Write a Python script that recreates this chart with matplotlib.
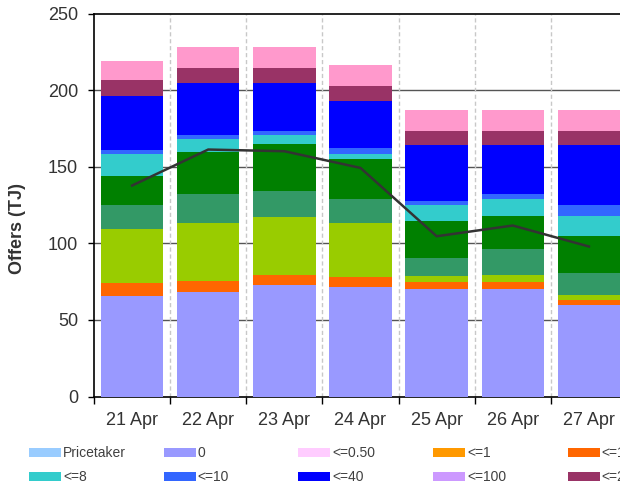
import numpy as np
import matplotlib
matplotlib.use("Agg")
from matplotlib import pyplot as plt
from matplotlib.patches import Patch

plt.rcParams['font.family'] = ['Liberation Sans', 'DejaVu Sans']

# days on the x axis
days = ['21 Apr', '22 Apr', '23 Apr', '24 Apr', '25 Apr', '26 Apr', '27 Apr']

# price bands, bottom of the stack first
bands = ['Pricetaker', '0', '<=0.50', '<=1', '<=1.5', '<=2', '<=4', '<=6',
         '<=8', '<=10', '<=40', '<=100', '<=250', '<=400']
band_colors = ['#99CCFF', '#9999FF', '#FFCCFF', '#FF9900', '#FF6600', '#99CC00',
               '#339966', '#008000', '#33CCCC', '#3366FF', '#0000FF', '#CC99FF',
               '#993366', '#FF99CC']

# offered quantity in each band (TJ)
pricetaker = [0, 0, 0, 0, 0, 0, 0]
band_0 = [65.3, 67.9, 73.1, 71.6, 70.3, 70.3, 60.0]
band_050 = [0, 0, 0, 0, 0, 0, 0]
band_1 = [0, 0, 0, 0, 0, 0, 0]
band_15 = [8.5, 7.6, 6.3, 6.3, 4.3, 4.3, 2.7]
band_2 = [35.6, 37.9, 37.8, 35.5, 3.9, 5.0, 3.6]
band_4 = [15.9, 18.5, 16.8, 15.8, 11.6, 17.0, 14.6]
band_6 = [18.5, 28.0, 31.1, 25.5, 24.3, 21.1, 23.7]
band_8 = [14.8, 7.9, 5.9, 3.9, 10.3, 11.5, 13.1]
band_10 = [2.6, 3.2, 2.6, 3.3, 2.6, 2.7, 7.0]
band_40 = [34.8, 33.5, 30.9, 31.3, 36.7, 32.1, 39.3]
band_100 = [0, 0, 0, 0, 0, 0, 0]
band_250 = [10.3, 10.0, 10.0, 9.4, 9.0, 9.0, 9.0]
band_400 = [13.0, 13.8, 13.8, 13.7, 13.9, 13.9, 13.9]

# total quantity line
total = [137.7, 161.2, 160.1, 149.2, 104.6, 111.6, 97.9]

series = [pricetaker, band_0, band_050, band_1, band_15, band_2, band_4, band_6,
          band_8, band_10, band_40, band_100, band_250, band_400]

fig = plt.figure(figsize=(6.2, 4.88), dpi=100)
ax = fig.add_axes([94/620, 91.5/488, 533/620, 383/488])

x = np.arange(len(days))
bottom = np.zeros(len(days))
for vals, c in zip(series, band_colors):
    vals = np.array(vals, dtype=float)
    ax.bar(x, vals, width=0.82, bottom=bottom, color=c, edgecolor='none', zorder=3)
    bottom += vals

ax.plot(x, total, color='#333333', lw=1.8, zorder=5)

ax.set_xlim(-0.5, len(days) - 0.5)
ax.set_ylim(0, 250)
ax.set_yticks([0, 50, 100, 150, 200, 250])

# horizontal grid and dashed separators between days
for v in [50, 100, 150, 200]:
    ax.axhline(v, color='#555555', lw=1, zorder=1)
for b in np.arange(0.5, len(days) - 0.5, 1):
    ax.axvline(b, color='#C8C8C8', lw=1, ls=(0, (3, 2)), zorder=1)

ax.set_xticks(np.arange(-0.5, len(days), 1))
ax.set_xticklabels([])
ax.set_xticks(x, minor=True)
ax.set_xticklabels(days, minor=True)
ax.tick_params(axis='x', which='major', direction='out', length=5, width=1, color='black')
ax.tick_params(axis='x', which='minor', length=0, pad=11, labelsize=13, labelcolor='#333333')
ax.tick_params(axis='y', direction='out', length=4.5, width=1, color='black',
               pad=7, labelsize=13, labelcolor='#333333')

for s in ['left', 'bottom', 'top']:
    ax.spines[s].set_color('black')
    ax.spines[s].set_linewidth(1.2)
ax.spines['right'].set_visible(False)

fig.text(18/620, 1 - 228/488, 'Offers (TJ)', rotation=90, ha='center', va='center',
         fontsize=13, fontweight='bold', color='#333333')

# legend laid out in equal-width columns, two rows
ncol = 8
for i in range(ncol):
    idx = [k for k in (i, i + ncol) if k < len(bands)]
    handles = [Patch(facecolor=band_colors[k], edgecolor='none') for k in idx]
    labels = [bands[k] for k in idx]
    fig.legend(handles, labels, loc='upper left',
               bbox_to_anchor=((29 + 134.7*i)/620, 1 - 446/488),
               frameon=False, borderpad=0, borderaxespad=0, fontsize=10,
               handlelength=2.3, handleheight=0.6, handletextpad=0.15,
               labelspacing=0.72, labelcolor='#404040')

fig.savefig('out.png', dpi=100)
